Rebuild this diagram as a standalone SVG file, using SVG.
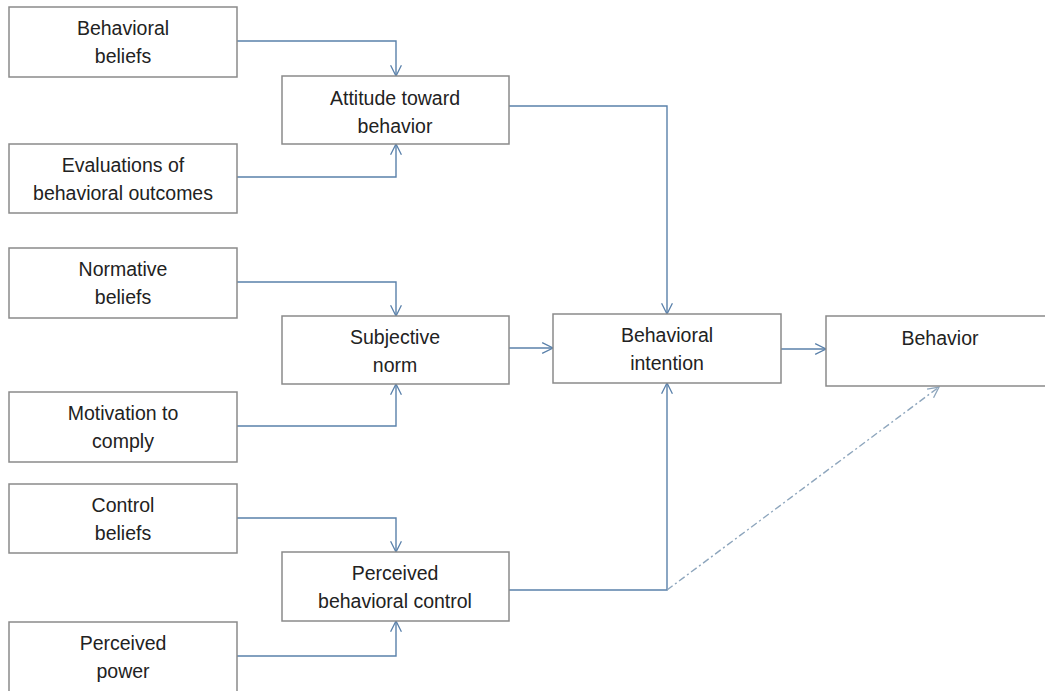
<svg xmlns="http://www.w3.org/2000/svg" width="1045" height="691" viewBox="0 0 1045 691">
<defs>
<style>
.box{fill:#fff;stroke:#8a8a8a;stroke-width:1.5}
.t{font-family:"Liberation Sans",Arial,sans-serif;font-size:19.5px;fill:#222;text-anchor:middle}
.c{fill:none;stroke:#5a81aa;stroke-width:1.4}
.d{fill:none;stroke:#8ea6bd;stroke-width:1.4;stroke-dasharray:7 3 2 3}
</style>
<marker id="a" viewBox="0 0 12 12" refX="11" refY="6" markerWidth="13" markerHeight="13" markerUnits="userSpaceOnUse" orient="auto">
<path d="M1,1 L11,6 L1,11" fill="none" stroke="#5a81aa" stroke-width="1.2"/>
</marker>
<marker id="ad" viewBox="0 0 12 12" refX="11" refY="6" markerWidth="13" markerHeight="13" markerUnits="userSpaceOnUse" orient="auto">
<path d="M1,1 L11,6 L1,11" fill="none" stroke="#8ea6bd" stroke-width="1.2"/>
</marker>
</defs>
<rect width="1045" height="691" fill="#fff"/>
<g id="connectors">
<path class="c" d="M237,41 H396 V76" marker-end="url(#a)"/>
<path class="c" d="M237,177 H396 V144" marker-end="url(#a)"/>
<path class="c" d="M509,106 H667 V314" marker-end="url(#a)"/>
<path class="c" d="M237,282 H396 V316" marker-end="url(#a)"/>
<path class="c" d="M237,426 H396 V384" marker-end="url(#a)"/>
<path class="c" d="M509,348 H553" marker-end="url(#a)"/>
<path class="c" d="M781,349 H826" marker-end="url(#a)"/>
<path class="c" d="M237,518 H396 V552" marker-end="url(#a)"/>
<path class="c" d="M237,656 H396 V621" marker-end="url(#a)"/>
<path class="c" d="M509,590 H667 V383" marker-end="url(#a)"/>
<path class="d" d="M667,590 L939,387" marker-end="url(#ad)"/>
</g>
<g id="behavioral-beliefs"><rect class="box" x="9" y="7" width="228" height="70"/><text class="t" x="123" y="35">Behavioral</text><text class="t" x="123" y="63">beliefs</text></g>
<g id="attitude"><rect class="box" x="282" y="76" width="227" height="68"/><text class="t" x="395" y="105">Attitude toward</text><text class="t" x="395" y="133">behavior</text></g>
<g id="evaluations"><rect class="box" x="9" y="144" width="228" height="69"/><text class="t" x="123" y="172">Evaluations of</text><text class="t" x="123" y="200">behavioral outcomes</text></g>
<g id="normative-beliefs"><rect class="box" x="9" y="248" width="228" height="70"/><text class="t" x="123" y="276">Normative</text><text class="t" x="123" y="304">beliefs</text></g>
<g id="subjective-norm"><rect class="box" x="282" y="316" width="227" height="68"/><text class="t" x="395" y="344">Subjective</text><text class="t" x="395" y="372">norm</text></g>
<g id="motivation"><rect class="box" x="9" y="392" width="228" height="70"/><text class="t" x="123" y="420">Motivation to</text><text class="t" x="123" y="448">comply</text></g>
<g id="intention"><rect class="box" x="553" y="314" width="228" height="69"/><text class="t" x="667" y="342">Behavioral</text><text class="t" x="667" y="370">intention</text></g>
<g id="behavior"><rect class="box" x="826" y="316" width="220" height="70"/><text class="t" x="940" y="345">Behavior</text></g>
<g id="control-beliefs"><rect class="box" x="9" y="484" width="228" height="69"/><text class="t" x="123" y="512">Control</text><text class="t" x="123" y="540">beliefs</text></g>
<g id="pbc"><rect class="box" x="282" y="552" width="227" height="69"/><text class="t" x="395" y="580">Perceived</text><text class="t" x="395" y="608">behavioral control</text></g>
<g id="perceived-power"><rect class="box" x="9" y="622" width="228" height="70"/><text class="t" x="123" y="650">Perceived</text><text class="t" x="123" y="678">power</text></g>
</svg>
